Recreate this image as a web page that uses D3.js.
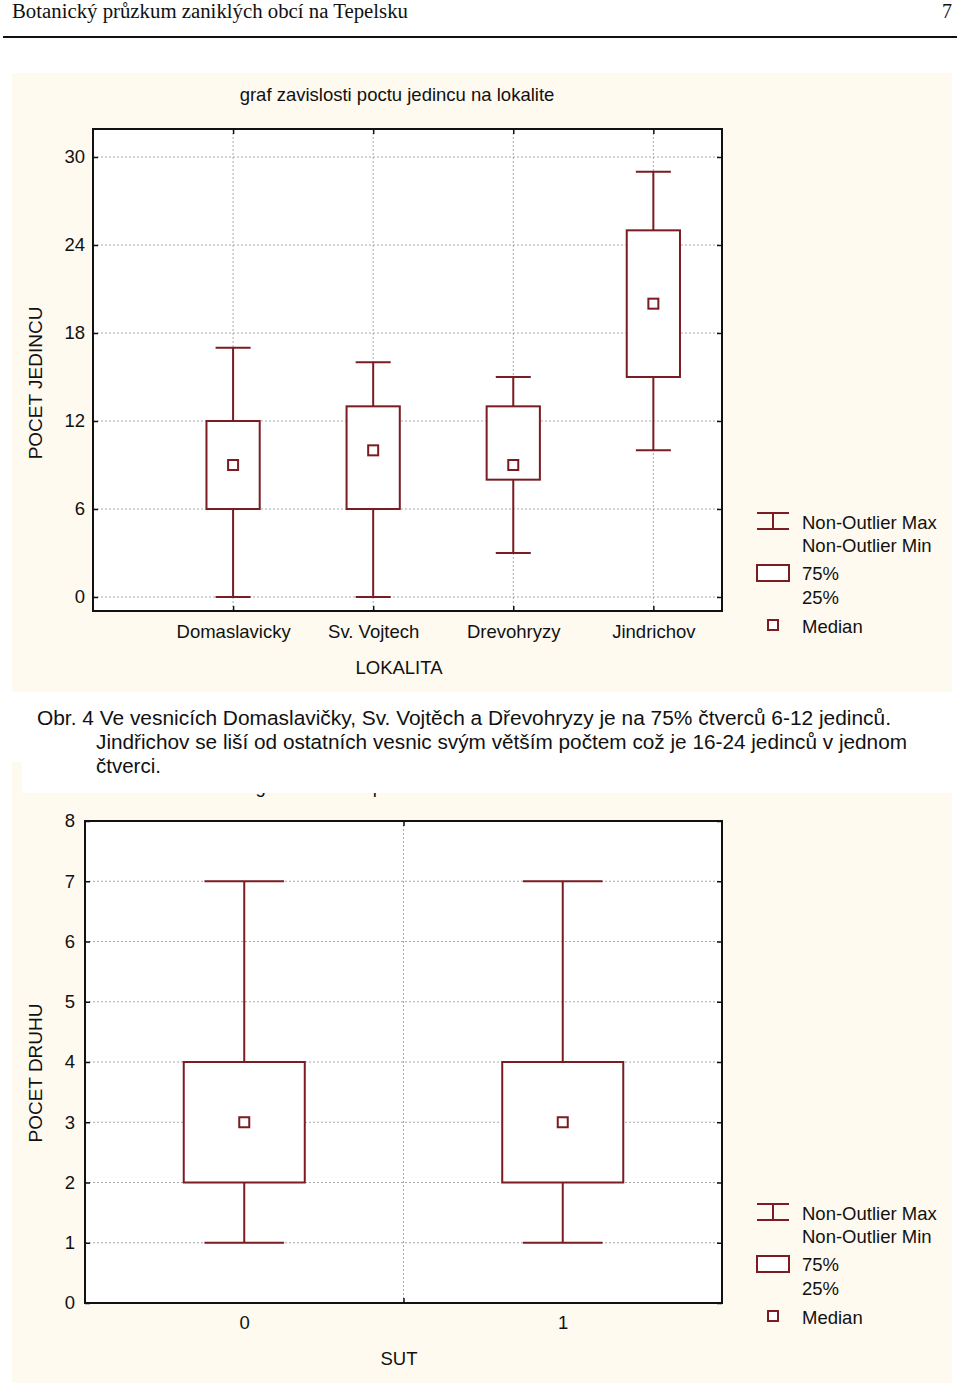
<!DOCTYPE html>
<html><head><meta charset="utf-8">
<script src="https://cdn.jsdelivr.net/npm/d3@7"></script>
<style>
html,body{margin:0;padding:0;background:#fff;}
svg{display:block;}
text{font-family:"Liberation Sans",Arial,sans-serif;fill:#111;}
text.serif{font-family:"Liberation Serif","Times New Roman",serif;}
</style></head>
<body>
<svg id="c" width="960" height="1383"></svg>
<script>
// ---- data ----
const lokality = ["Domaslavicky", "Sv. Vojtech", "Drevohryzy", "Jindrichov"];
const jedMin = [0, 0, 3, 10];
const jedQ1  = [6, 6, 8, 15];
const jedMed = [9, 10, 9, 20];
const jedQ3  = [12, 13, 13, 25];
const jedMax = [17, 16, 15, 29];
const yTicksJed = [0, 6, 12, 18, 24, 30];

const sutKat = ["0", "1"];
const druhMin = [1, 1];
const druhQ1  = [2, 2];
const druhMed = [3, 3];
const druhQ3  = [4, 4];
const druhMax = [7, 7];
const yTicksDruh = [0, 1, 2, 3, 4, 5, 6, 7, 8];

const legendLabels = [["Non-Outlier Max", "Non-Outlier Min"], ["75%", "25%"], ["Median"]];

const titleTop = "graf zavislosti poctu jedincu na lokalite";
const titleBottom = "graf zavislosti poctu druhu na SUT";
const header = "Botanický průzkum zaniklých obcí na Tepelsku";
const captionLines = [
  "Obr. 4 Ve vesnicích Domaslavičky, Sv. Vojtěch a Dřevohryzy je na 75% čtverců 6-12 jedinců.",
  "Jindřichov se liší od ostatních vesnic svým větším počtem což je 16-24 jedinců v jednom",
  "čtverci."
];

// ---- style ----
const RED = "#7a1c22";
const PANEL = "#fefaf0";
const GRID = "#a9a9a9";
const svg = d3.select("#c");

// header
svg.append("text").attr("class", "serif").attr("x", 12).attr("y", 18)
  .attr("font-size", 20).attr("textLength", 396).attr("lengthAdjust", "spacingAndGlyphs").text(header);
svg.append("text").attr("class", "serif").attr("x", 952).attr("y", 18).attr("text-anchor", "end")
  .attr("font-size", 20).text("7");
svg.append("line").attr("x1", 3).attr("x2", 957).attr("y1", 37).attr("y2", 37)
  .attr("stroke", "#111").attr("stroke-width", 2);

// panels
svg.append("rect").attr("x", 12).attr("y", 73).attr("width", 940).attr("height", 619).attr("fill", PANEL);
svg.append("rect").attr("x", 12).attr("y", 762).attr("width", 940).attr("height", 621).attr("fill", PANEL);

function boxChart(o) {
  const g = svg.append("g");
  const x = d3.scaleLinear().domain(o.xDomain).range([o.left, o.right]);
  const y = d3.scaleLinear().domain(o.yDomain).range([o.bottom, o.top]);

  // plot background
  g.append("rect").attr("x", o.left).attr("y", o.top).attr("width", o.right - o.left)
    .attr("height", o.bottom - o.top).attr("fill", "#fff");

  // grid
  g.selectAll(".hg").data(o.yTicks).join("line")
    .attr("x1", o.left).attr("x2", o.right).attr("y1", d => y(d)).attr("y2", d => y(d))
    .attr("stroke", GRID).attr("stroke-dasharray", "2,2").attr("stroke-width", 1);
  g.selectAll(".vg").data(o.xGrid).join("line")
    .attr("x1", d => x(d)).attr("x2", d => x(d)).attr("y1", o.top).attr("y2", o.bottom)
    .attr("stroke", GRID).attr("stroke-dasharray", "2,2").attr("stroke-width", 1);

  // inward ticks on all sides
  const tk = (sel) => sel.call(s => s.select(".domain").remove()).selectAll("line").attr("stroke", "#111").attr("stroke-width", 1.5);
  g.append("g").attr("transform", `translate(${o.left},0)`)
    .call(d3.axisLeft(y).tickValues(o.yTicks).tickSize(-5).tickFormat("")).call(tk);
  g.append("g").attr("transform", `translate(${o.right},0)`)
    .call(d3.axisRight(y).tickValues(o.yTicks).tickSize(-5).tickFormat("")).call(tk);
  g.append("g").attr("transform", `translate(0,${o.top})`)
    .call(d3.axisTop(x).tickValues(o.xGrid).tickSize(-5).tickFormat("")).call(tk);
  g.append("g").attr("transform", `translate(0,${o.bottom})`)
    .call(d3.axisBottom(x).tickValues(o.xGrid).tickSize(-5).tickFormat("")).call(tk);

  // tick labels
  const yl = g.append("g").attr("transform", `translate(${o.left},0)`)
    .call(d3.axisLeft(y).tickValues(o.yTicks).tickSize(0).tickPadding(o.yPad).tickFormat(d3.format("d")));
  yl.select(".domain").remove();
  yl.selectAll("text").attr("font-size", 18.5).attr("fill", "#111");

  const xl = g.append("g").attr("transform", `translate(0,${o.bottom})`)
    .call(d3.axisBottom(x).tickValues(o.cats.map((c, i) => o.xPos[i])).tickSize(0).tickPadding(o.xPad)
      .tickFormat((d, i) => o.cats[i]));
  xl.select(".domain").remove();
  xl.selectAll("text").attr("font-size", 18.5).attr("fill", "#111");

  // boxes
  const data = o.cats.map((c, i) => ({p: o.xPos[i], mn: o.min[i], q1: o.q1[i], md: o.med[i], q3: o.q3[i], mx: o.max[i]}));
  const bw = 0.38, cw = 0.25;
  const b = g.selectAll(".b").data(data).join("g");
  b.append("line").attr("x1", d => x(d.p)).attr("x2", d => x(d.p)).attr("y1", d => y(d.mx)).attr("y2", d => y(d.q3))
    .attr("stroke", RED).attr("stroke-width", 2);
  b.append("line").attr("x1", d => x(d.p)).attr("x2", d => x(d.p)).attr("y1", d => y(d.q1)).attr("y2", d => y(d.mn))
    .attr("stroke", RED).attr("stroke-width", 2);
  b.append("line").attr("x1", d => x(d.p - cw / 2)).attr("x2", d => x(d.p + cw / 2)).attr("y1", d => y(d.mx)).attr("y2", d => y(d.mx))
    .attr("stroke", RED).attr("stroke-width", 2);
  b.append("line").attr("x1", d => x(d.p - cw / 2)).attr("x2", d => x(d.p + cw / 2)).attr("y1", d => y(d.mn)).attr("y2", d => y(d.mn))
    .attr("stroke", RED).attr("stroke-width", 2);
  b.append("rect").attr("x", d => x(d.p - bw / 2)).attr("width", d => x(d.p + bw / 2) - x(d.p - bw / 2))
    .attr("y", d => y(d.q3)).attr("height", d => y(d.q1) - y(d.q3))
    .attr("fill", "#fff").attr("stroke", RED).attr("stroke-width", 2);
  b.append("rect").attr("x", d => x(d.p) - 5).attr("y", d => y(d.md) - 5).attr("width", 10).attr("height", 10)
    .attr("fill", "#fff").attr("stroke", RED).attr("stroke-width", 2);

  // frame
  g.append("rect").attr("x", o.left).attr("y", o.top).attr("width", o.right - o.left)
    .attr("height", o.bottom - o.top).attr("fill", "none").attr("stroke", "#111").attr("stroke-width", 2);

  // titles
  g.append("text").attr("x", 397).attr("y", o.top - 28).attr("text-anchor", "middle").attr("font-size", 18.5).text(o.title);
  g.append("text").attr("x", 399).attr("y", o.xTitleY).attr("text-anchor", "middle").attr("font-size", 18.5).text(o.xTitle);
  g.append("text").attr("transform", `translate(42,${o.yTitleC}) rotate(-90)`).attr("text-anchor", "middle")
    .attr("font-size", 19).text(o.yTitle);

  // legend
  const L = g.append("g").attr("transform", `translate(757,${o.legY})`);
  L.append("line").attr("x1", 0).attr("x2", 32).attr("y1", 0).attr("y2", 0).attr("stroke", RED).attr("stroke-width", 2);
  L.append("line").attr("x1", 0).attr("x2", 32).attr("y1", 16).attr("y2", 16).attr("stroke", RED).attr("stroke-width", 2);
  L.append("line").attr("x1", 16).attr("x2", 16).attr("y1", 0).attr("y2", 16).attr("stroke", RED).attr("stroke-width", 2);
  L.append("rect").attr("x", 0).attr("y", 52).attr("width", 32).attr("height", 16).attr("fill", "#fff").attr("stroke", RED).attr("stroke-width", 2);
  L.append("rect").attr("x", 11).attr("y", 107).attr("width", 10).attr("height", 10).attr("fill", "#fff").attr("stroke", RED).attr("stroke-width", 2);
  const ly = [[16, 39], [67, 91], [120]];
  legendLabels.forEach((grp, gi) => grp.forEach((t, ti) => {
    L.append("text").attr("x", 45).attr("y", ly[gi][ti]).attr("font-size", 18.5).text(t);
  }));
}

boxChart({
  left: 93, right: 722, top: 129, bottom: 611,
  xDomain: [0, 4.49], yDomain: [-0.955, 31.91],
  cats: lokality, xPos: [1, 2, 3, 4], xGrid: [1, 2, 3, 4],
  min: jedMin, q1: jedQ1, med: jedMed, q3: jedQ3, max: jedMax,
  yTicks: yTicksJed, yPad: 8, xPad: 14,
  title: titleTop, xTitle: "LOKALITA", xTitleY: 674, yTitle: "POCET JEDINCU", yTitleC: 383,
  legY: 513
});

boxChart({
  left: 85, right: 722, top: 821, bottom: 1303,
  xDomain: [-0.5, 1.5], yDomain: [0, 8],
  cats: sutKat, xPos: [0, 1], xGrid: [0.5],
  min: druhMin, q1: druhQ1, med: druhMed, q3: druhQ3, max: druhMax,
  yTicks: yTicksDruh, yPad: 10, xPad: 13,
  title: titleBottom, xTitle: "SUT", xTitleY: 1365, yTitle: "POCET DRUHU", yTitleC: 1073,
  legY: 1204
});

// caption band (covers the top of the second chart, as in the page)
svg.append("rect").attr("x", 22).attr("y", 697).attr("width", 930).attr("height", 96).attr("fill", "#fff");
const capLen = [854, 811, null];
const cap = svg.append("g");
cap.selectAll("text").data(captionLines).join("text")
  .attr("x", (d, i) => i === 0 ? 37 : 96).attr("y", (d, i) => 725 + i * 24)
  .attr("font-size", 20.5)
  .each(function (d, i) { if (capLen[i]) d3.select(this).attr("textLength", capLen[i]).attr("lengthAdjust", "spacingAndGlyphs"); })
  .text(d => d);
</script>
</body></html>
